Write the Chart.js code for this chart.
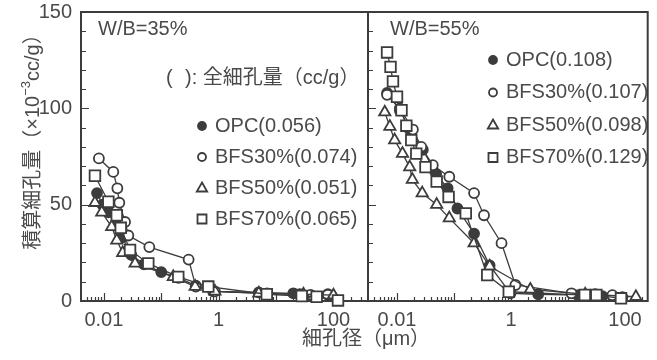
<!DOCTYPE html>
<html>
<head>
<meta charset="utf-8">
<script src="https://cdn.jsdelivr.net/npm/chart.js@4.4.0/dist/chart.umd.min.js"></script>
<style>
  body { margin: 0; background: #fff; }
  #wrap { position: relative; width: 657px; height: 360px; }
  #wrap canvas { position: absolute; left: 0; top: 0; }
</style>
</head>
<body>
<div id="wrap">
  <canvas id="wb35" width="657" height="360"></canvas>
  <canvas id="wb55" width="657" height="360"></canvas>
</div>
<script>
// 積算細孔量 vs 細孔径, W/B=35% (left) and W/B=55% (right)
const seriesNames = ['OPC', 'BFS30%', 'BFS50%', 'BFS70%'];
const total35 = [0.056, 0.074, 0.051, 0.065];   // 全細孔量 cc/g
const total55 = [0.108, 0.107, 0.098, 0.129];

// [pore diameter (μm), cumulative volume (×10^-3 cc/g)]
const opc35 = [[0.0076, 56], [0.0095, 50], [0.012, 46], [0.016, 40], [0.021, 33], [0.03, 24], [0.05, 19],
  [0.1, 15], [0.2, 12], [0.4, 8], [0.8, 5], [5, 4.5], [20, 4], [80, 3.5]];
const bfs30_35 = [[0.0082, 74], [0.0146, 67], [0.0172, 58.5], [0.0186, 51], [0.0234, 41], [0.0267, 34],
  [0.062, 28], [0.3, 21.5], [0.4, 7.5], [0.86, 5], [7, 4], [26, 3.5], [40, 3.2], [80, 3.2]];
const bfs50_35 = [[0.007, 51], [0.0092, 46], [0.0137, 38.5], [0.0168, 31.5], [0.0213, 25], [0.035, 19.5],
  [0.162, 12.5], [0.39, 7.5], [0.86, 5], [5, 4], [30, 3.5], [100, 3]];
const bfs70_35 = [[0.007, 65], [0.012, 51.5], [0.0168, 44.5], [0.0197, 38], [0.0286, 26.5], [0.0595, 19.5],
  [0.198, 12.5], [0.66, 7.5], [6.9, 3.5], [28, 2.6], [51, 2.2], [120, 0.3]];

const opc55 = [[0.0067, 108], [0.0112, 99], [0.0167, 89], [0.0284, 78.5], [0.0486, 66], [0.0773, 58.5],
  [0.115, 48], [0.225, 35], [0.422, 18.5], [0.978, 4], [3, 3.5], [15, 3], [40, 2.5], [90, 2]];
const bfs30_55 = [[0.0067, 107], [0.0112, 100], [0.019, 89], [0.0266, 80], [0.0424, 70.5], [0.0827, 64.5],
  [0.225, 56], [0.336, 44.5], [0.682, 30], [1.195, 8.3], [11.5, 4], [30, 3.5], [60, 3]];
const bfs50_55 = [[0.0061, 98], [0.0075, 90.5], [0.0091, 83.5], [0.0125, 76.5], [0.0167, 69.5], [0.0186, 63],
  [0.0277, 56], [0.0497, 50], [0.0827, 43], [0.225, 30], [0.422, 18], [2.18, 6], [20, 3.5], [155, 2.2]];
const bfs70_55 = [[0.0067, 129], [0.0077, 121.5], [0.0085, 114], [0.01, 106], [0.012, 99], [0.0146, 91],
  [0.0178, 83.5], [0.0218, 76.5], [0.0316, 69.5], [0.0497, 62], [0.0804, 54], [0.161, 45.5], [0.383, 13.5],
  [0.914, 4.8], [19.7, 3.1], [31.4, 3.1], [85, 1.4]];

const xTickValues = [0.01, 1, 100];
const yTickValues = [0, 50, 100, 150];

const INK = '#3c3c3c';
const TEXT = '#4a4a4a';
const FONT = '"Liberation Sans", Arial, "Noto Sans CJK JP", sans-serif';
const FS = 20;

const markers = [
  { style: 'circle', radius: 5, fill: INK },
  { style: 'circle', radius: 5, fill: '#fff' },
  { style: 'triangle', radius: 6.5, fill: '#fff' },
  { style: 'rect', radius: 7.5, fill: '#fff' },
];

function makeDatasets(series) {
  return series.map((pts, i) => ({
    label: seriesNames[i],
    data: pts.map(([d, v]) => ({ x: d, y: v })),
    order: series.length - 1 - i,   // squares end up on top
    showLine: true,
    clip: false,
    borderColor: INK,
    borderWidth: 1.3,
    pointStyle: markers[i].style,
    pointRadius: markers[i].radius,
    pointBackgroundColor: markers[i].fill,
    pointBorderColor: INK,
    pointBorderWidth: 1.8,
  }));
}

// small legend marker, same shapes as the plotted points
function drawMarker(ctx, i, x, y) {
  const m = markers[i];
  ctx.save();
  ctx.lineWidth = 1.8;
  ctx.strokeStyle = INK;
  ctx.fillStyle = m.fill;
  ctx.beginPath();
  if (m.style === 'circle') {
    ctx.arc(x, y, 4, 0, Math.PI * 2);
  } else if (m.style === 'triangle') {
    ctx.moveTo(x, y - 5.5);
    ctx.lineTo(x + 5.2, y + 3.5);
    ctx.lineTo(x - 5.2, y + 3.5);
    ctx.closePath();
  } else {
    ctx.rect(x - 4.5, y - 4.5, 9, 9);
  }
  ctx.fill();
  ctx.stroke();
  ctx.restore();
}

// box frame plus inward log/linear tick marks
const frameTicks = {
  id: 'frameTicks',
  beforeDatasetsDraw(chart) {
    const { ctx, chartArea: a } = chart;
    const x = chart.scales.x, y = chart.scales.y;
    ctx.save();
    ctx.strokeStyle = INK;
    ctx.lineWidth = 1.2;
    ctx.beginPath();
    for (let v = 10; v < 150; v += 10) {
      const py = Math.round(y.getPixelForValue(v)) + 0.5;
      const len = v % 50 === 0 ? 8 : 5;
      ctx.moveTo(a.left, py);
      ctx.lineTo(a.left + len, py);
    }
    const lo = Math.floor(Math.log10(x.min)), hi = Math.ceil(Math.log10(x.max));
    for (let k = lo; k <= hi; k++) {
      for (let m = 1; m <= 9; m++) {
        const v = m * Math.pow(10, k);
        if (v <= x.min || v >= x.max) continue;
        const px = Math.round(x.getPixelForValue(v)) + 0.5;
        const len = m === 1 ? 8 : 4;
        ctx.moveTo(px, a.bottom);
        ctx.lineTo(px, a.bottom - len);
      }
    }
    ctx.stroke();
    ctx.lineWidth = 2;
    ctx.strokeRect(a.left, a.top, a.right - a.left, a.bottom - a.top);
    ctx.restore();
  }
};

// panel caption and the "( ): 全細孔量" legend
function panelNotes(cfg) {
  return {
    id: 'panelNotes',
    afterDraw(chart) {
      const ctx = chart.ctx;
      ctx.save();
      ctx.fillStyle = TEXT;
      ctx.font = FS + 'px ' + FONT;
      ctx.textBaseline = 'middle';
      ctx.textAlign = 'left';
      ctx.fillText(cfg.caption, cfg.captionX, cfg.captionY);
      if (cfg.header) {
        ctx.fillText('(', cfg.header.x0, cfg.header.y);
        ctx.fillText('): 全細孔量（cc/g）', cfg.header.x1, cfg.header.y);
      }
      cfg.totals.forEach((t, i) => {
        const y = cfg.legendY + i * cfg.legendDy;
        drawMarker(ctx, i, cfg.legendX, y);
        ctx.fillStyle = TEXT;
        ctx.fillText(seriesNames[i] + '(' + t.toFixed(3) + ')', cfg.legendX + 13, y);
      });
      ctx.restore();
    }
  };
}

// shared axis titles
const axisTitles = {
  id: 'axisTitles',
  afterDraw(chart) {
    const ctx = chart.ctx;
    ctx.save();
    ctx.fillStyle = TEXT;
    ctx.textBaseline = 'middle';
    ctx.textAlign = 'center';
    ctx.font = FS + 'px ' + FONT;
    ctx.fillText('細孔径（μm）', 366, 339);

    // y title rotated, with superscript exponent
    const parts = [
      { t: '積算細孔量（×10', size: FS, dy: 0 },
      { t: '−3', size: 13, dy: -7 },
      { t: 'cc/g）', size: FS, dy: 0 },
    ];
    let total = 0;
    parts.forEach(p => { ctx.font = p.size + 'px ' + FONT; p.w = ctx.measureText(p.t).width; total += p.w; });
    ctx.translate(33, 137);
    ctx.rotate(-Math.PI / 2);
    ctx.textAlign = 'left';
    let cx = -total / 2;
    parts.forEach(p => {
      ctx.font = p.size + 'px ' + FONT;
      ctx.fillText(p.t, cx, p.dy);
      cx += p.w;
    });
    ctx.restore();
  }
};

function baseOptions(xmin, xmax, padding, showY) {
  return {
    responsive: false,
    animation: false,
    devicePixelRatio: 1,
    layout: { padding },
    plugins: { legend: { display: false }, tooltip: { enabled: false } },
    scales: {
      x: {
        type: 'logarithmic',
        min: xmin,
        max: xmax,
        grid: { display: false, drawTicks: false },
        border: { display: false },
        afterBuildTicks: s => { s.ticks = xTickValues.map(v => ({ value: v })); },
        afterFit: s => { s.height = 59; s.paddingLeft = 0; s.paddingRight = 0; },
        ticks: {
          autoSkip: false,
          maxRotation: 0,
          padding: 7,
          color: TEXT,
          font: { size: FS, family: FONT },
          callback: v => String(v),
        },
      },
      y: {
        display: showY,
        min: 0,
        max: 150,
        grid: { display: false, drawTicks: false },
        border: { display: false },
        afterBuildTicks: s => { s.ticks = yTickValues.map(v => ({ value: v })); },
        // fixed axis box so both panels share the same plot height
        afterFit: s => { s.width = showY ? 81 : 0; s.paddingTop = 0; s.paddingBottom = 0; },
        ticks: {
          padding: 9,
          color: TEXT,
          font: { size: FS, family: FONT },
        },
      },
    },
  };
}

new Chart(document.getElementById('wb35'), {
  type: 'scatter',
  data: { datasets: makeDatasets([opc35, bfs30_35, bfs50_35, bfs70_35]) },
  options: baseOptions(0.004, 400, { left: 0, right: 289, top: 12, bottom: 0 }, true),
  plugins: [frameTicks, axisTitles, panelNotes({
    caption: 'W/B=35%', captionX: 98, captionY: 29,
    header: { x0: 166, x1: 185, y: 78 },
    totals: total35, legendX: 202, legendY: 126, legendDy: 31,
  })],
});

new Chart(document.getElementById('wb55'), {
  type: 'scatter',
  data: { datasets: makeDatasets([opc55, bfs30_55, bfs50_55, bfs70_55]) },
  options: baseOptions(0.0031, 250, { left: 368, right: 6, top: 12, bottom: 0 }, false),
  plugins: [frameTicks, panelNotes({
    caption: 'W/B=55%', captionX: 390, captionY: 29,
    header: null,
    totals: total55, legendX: 493, legendY: 60, legendDy: 32.5,
  })],
});
</script>
</body>
</html>
